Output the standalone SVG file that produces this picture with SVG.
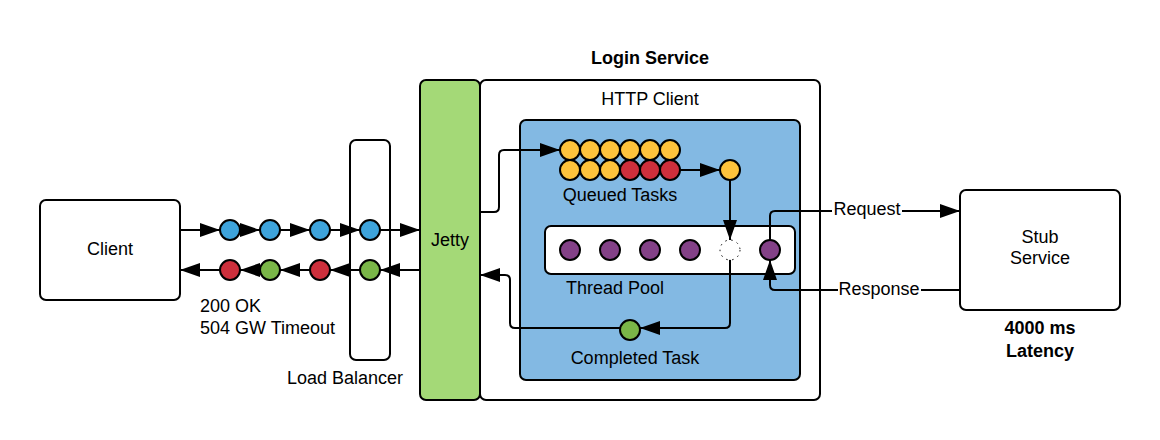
<svg xmlns="http://www.w3.org/2000/svg" width="1160" height="440" viewBox="0 0 1160 440">
<style>
.box{fill:#fff;stroke:#000;stroke-width:2}
.ln{fill:none;stroke:#000;stroke-width:2}
.c{stroke:#000;stroke-width:2}
.bl{fill:#3ea4dc}.rd{fill:#cd2f3c}.gr{fill:#7ab648}.ye{fill:#fdc33c}.pu{fill:#834187}
text{font-family:"Liberation Sans",Arial,sans-serif;font-size:18px;fill:#000}
.b{font-weight:bold}
</style>
<defs>
<marker id="a" viewBox="0 0 20 14" refX="20" refY="7" markerWidth="20" markerHeight="14" orient="auto" markerUnits="userSpaceOnUse">
<path d="M0,0 L20,7 L0,14 z" fill="#000"/>
</marker>
</defs>
<rect width="1160" height="440" fill="#fff"/>

<g id="client"><rect class="box" x="40" y="200" width="140" height="100" rx="6"/><text x="110" y="255" text-anchor="middle">Client</text></g>
<g id="loadbalancer"><rect class="box" x="350" y="140" width="40" height="220" rx="6"/><text x="345" y="384" text-anchor="middle">Load Balancer</text></g>
<g id="login-service"><rect class="box" x="480" y="80" width="340" height="320" rx="6"/><text class="b" x="650" y="64" text-anchor="middle">Login Service</text><text x="650" y="105" text-anchor="middle">HTTP Client</text></g>
<g id="jetty"><rect x="420" y="80" width="60" height="320" rx="6" fill="#a4d977" stroke="#000" stroke-width="2"/><text x="450" y="246" text-anchor="middle">Jetty</text></g>
<g id="thread-executor"><rect x="520" y="120" width="280" height="260" rx="6" fill="#83b9e3" stroke="#000" stroke-width="2"/></g>
<g id="thread-pool"><rect class="box" x="545" y="226" width="250" height="48" rx="6"/><text x="615" y="294" text-anchor="middle">Thread Pool</text></g>
<g id="stub"><rect class="box" x="960" y="190" width="160" height="120" rx="6"/><text x="1040" y="243" text-anchor="middle">Stub</text><text x="1040" y="264" text-anchor="middle">Service</text><text class="b" x="1040" y="334" text-anchor="middle">4000 ms</text><text class="b" x="1040" y="357" text-anchor="middle">Latency</text></g>

<g id="connectors">
<path class="ln" d="M180,230 H220" marker-end="url(#a)"/>
<path class="ln" d="M240,230 H260" marker-end="url(#a)"/>
<path class="ln" d="M280,230 H310" marker-end="url(#a)"/>
<path class="ln" d="M330,230 H360" marker-end="url(#a)"/>
<path class="ln" d="M380,230 H420" marker-end="url(#a)"/>
<path class="ln" d="M420,270 H380" marker-end="url(#a)"/>
<path class="ln" d="M360,270 H330" marker-end="url(#a)"/>
<path class="ln" d="M310,270 H280" marker-end="url(#a)"/>
<path class="ln" d="M260,270 H240" marker-end="url(#a)"/>
<path class="ln" d="M220,270 H180" marker-end="url(#a)"/>
<path class="ln" d="M480,212 H494 Q499,212 499,207 V155 Q499,150 504,150 H560" marker-end="url(#a)"/>
<path class="ln" d="M680,170 H720" marker-end="url(#a)"/>
<path class="ln" d="M730,180 V240" marker-end="url(#a)"/>
<path class="ln" d="M730,250 V323 Q730,328 725,328 H640" marker-end="url(#a)"/>
<path class="ln" d="M620,328 H515 Q510,328 510,323 V280 Q510,275 505,275 H480" marker-end="url(#a)"/>
<path class="ln" d="M770,240 V216 Q770,211 775,211 H960" marker-end="url(#a)"/>
<path class="ln" d="M960,290 H775 Q770,290 770,285 V260" marker-end="url(#a)"/>
<rect x="832" y="200" width="70" height="20" fill="#fff"/>
<text x="867" y="215" text-anchor="middle">Request</text>
<rect x="838" y="279" width="83" height="20" fill="#fff"/>
<text x="879" y="295" text-anchor="middle">Response</text>
</g>

<g id="tokens">
<circle class="c bl" cx="230" cy="230" r="10"/>
<circle class="c bl" cx="270" cy="230" r="10"/>
<circle class="c bl" cx="320" cy="230" r="10"/>
<circle class="c bl" cx="370" cy="230" r="10"/>
<circle class="c rd" cx="230" cy="270" r="10"/>
<circle class="c gr" cx="270" cy="270" r="10"/>
<circle class="c rd" cx="320" cy="270" r="10"/>
<circle class="c gr" cx="370" cy="270" r="10"/>
</g>

<g id="queued-tasks">
<circle class="c ye" cx="570" cy="150" r="10"/><circle class="c ye" cx="590" cy="150" r="10"/><circle class="c ye" cx="610" cy="150" r="10"/><circle class="c ye" cx="630" cy="150" r="10"/><circle class="c ye" cx="650" cy="150" r="10"/><circle class="c ye" cx="670" cy="150" r="10"/>
<circle class="c ye" cx="570" cy="170" r="10"/><circle class="c ye" cx="590" cy="170" r="10"/><circle class="c ye" cx="610" cy="170" r="10"/><circle class="c rd" cx="630" cy="170" r="10"/><circle class="c rd" cx="650" cy="170" r="10"/><circle class="c rd" cx="670" cy="170" r="10"/>
<text x="620" y="201" text-anchor="middle">Queued Tasks</text>
<circle class="c ye" cx="730" cy="170" r="10"/>
</g>

<g id="threads">
<circle class="c pu" cx="570" cy="250" r="10"/>
<circle class="c pu" cx="610" cy="250" r="10"/>
<circle class="c pu" cx="650" cy="250" r="10"/>
<circle class="c pu" cx="690" cy="250" r="10"/>
<circle cx="730" cy="250" r="10" fill="#fff" stroke="#000" stroke-width="1" stroke-dasharray="1.5,4.5"/>
<circle class="c pu" cx="770" cy="250" r="10"/>
</g>

<g id="completed-task">
<circle class="c gr" cx="630" cy="330" r="10"/>
<text x="635" y="364" text-anchor="middle">Completed Task</text>
</g>

<g id="status-labels">
<text x="200" y="312">200 OK</text>
<text x="200" y="334">504 GW Timeout</text>
</g>
</svg>
